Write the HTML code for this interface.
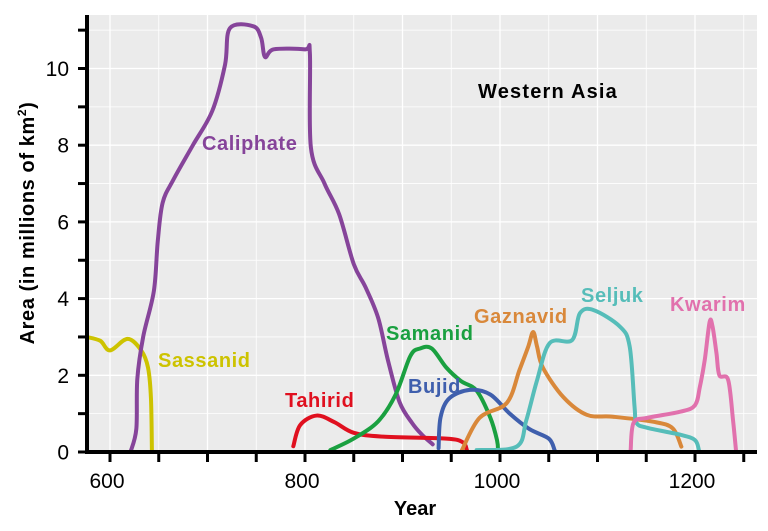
<!DOCTYPE html>
<html><head><meta charset="utf-8"><style>
html,body{margin:0;padding:0;background:#fff;}
svg text{font-family:"Liberation Sans",sans-serif;}
</style></head><body>
<svg id="chart" width="768" height="526" viewBox="0 0 768 526" xmlns="http://www.w3.org/2000/svg">
<rect x="87" y="15" width="670" height="437" fill="#ebebeb"/>
<g id="grid"></g><g id="series"></g><g id="axes"></g><g id="labels"></g>
</svg>
<script>
const xTicks=[600,800,1000,1200];
const yTicks=[0,2,4,6,8,10];
const sassanidYears=[576,590,600,618,632,639,642,643];
const sassanidArea=[3.0,2.9,2.65,2.95,2.65,2.2,1.4,0];
const caliphateYears=[621,627,628,634,645,649,654,665,685,705,718,723,747,755,759,768,800,805,806,820,835,850,862,875,885,897,910,920,931];
const caliphateArea=[0,0.6,1.9,3.0,4.2,5.5,6.5,7.1,8.0,8.9,10.1,11.05,11.1,10.8,10.3,10.5,10.5,10.4,7.95,7.0,6.2,4.9,4.3,3.5,2.4,1.3,0.75,0.45,0.2];
const tahiridYears=[788,795,812,830,850,880,945,962,966];
const tahiridArea=[0.15,0.7,0.95,0.78,0.5,0.4,0.35,0.25,0.05];
const samanidYears=[826,850,875,893,908,918,930,945,960,976,990,997,998];
const samanidArea=[0.05,0.35,0.8,1.5,2.5,2.7,2.7,2.2,1.85,1.6,0.9,0.3,0];
const bujidYears=[937,939,948,969,990,1010,1030,1050,1056];
const bujidArea=[0.1,0.9,1.4,1.62,1.5,1.0,0.6,0.35,0.05];
const gaznavidYears=[961,979,1007,1020,1029,1034,1038,1044,1065,1089,1116,1157,1177,1186];
const gaznavidArea=[0.05,0.89,1.28,2.14,2.75,3.13,2.75,2.2,1.43,0.97,0.92,0.79,0.62,0.14];
const seljukYears=[976,1017,1027,1038,1051,1074,1082,1096,1123,1133,1138,1140,1151,1185,1200,1204];
const seljukArea=[0.05,0.14,0.83,1.87,2.84,2.92,3.62,3.7,3.27,2.75,1.18,0.76,0.63,0.45,0.31,0.05];
const kwarimYears=[1134,1137,1151,1185,1200,1205,1210,1215,1218,1222,1225,1234,1239,1242];
const kwarimArea=[0.05,0.76,0.89,1.05,1.22,1.7,2.4,3.39,3.27,2.58,2.0,1.88,0.83,0.05];

const X0=110,KX=0.975,Y0=452,KY=38.35;
const sx=y=>X0+(y-600)*KX, sy=v=>Y0-v*KY;
const NS='http://www.w3.org/2000/svg';
function mk(tag,parent,attrs){const e=document.createElementNS(NS,tag);for(const k in attrs)e.setAttribute(k,attrs[k]);document.getElementById(parent).appendChild(e);return e;}
for(let v=0;v<=11;v++){const l=mk('line','grid',{x1:87,x2:757,y1:sy(v),y2:sy(v),stroke:'#fff','stroke-width':v%2?0.8:1.3});

}
for(let y=600;y<=1250;y+=50){const l=mk('line','grid',{x1:sx(y),x2:sx(y),y1:15,y2:452,stroke:'#fff','stroke-width':y%100?0.8:1.3});

}
function path(xs,vs){const p=xs.map((x,i)=>[sx(x),sy(vs[i])]);let d='M'+p[0][0]+','+p[0][1];
for(let i=0;i<p.length-1;i++){const a=p[i-1]||p[i],b=p[i],c=p[i+1],e=p[i+2]||c;
d+=` C${b[0]+(c[0]-a[0])/6},${b[1]+(c[1]-a[1])/6} ${c[0]-(e[0]-b[0])/6},${c[1]-(e[1]-b[1])/6} ${c[0]},${c[1]}`;}return d;}
const S=[['sassanid',sassanidYears,sassanidArea,'#cdc300'],['caliphate',caliphateYears,caliphateArea,'#86449a'],['tahirid',tahiridYears,tahiridArea,'#e0101f'],['samanid',samanidYears,samanidArea,'#1aa040'],['bujid',bujidYears,bujidArea,'#3f5fad'],['gaznavid',gaznavidYears,gaznavidArea,'#d9883a'],['seljuk',seljukYears,seljukArea,'#56bdb9'],['kwarim',kwarimYears,kwarimArea,'#e171ad']];
S.forEach(s=>{const e=mk('path','series',{d:path(s[1],s[2]),fill:'none',stroke:s[3],'stroke-width':4,'stroke-linecap':'round','stroke-linejoin':'round'});

});
let a=mk('line','axes',{x1:87,x2:87,y1:15,y2:454,stroke:'#000','stroke-width':4});


a=mk('line','axes',{x1:85,x2:757,y1:452,y2:452,stroke:'#000','stroke-width':4});


for(let v=0;v<=11;v++){const t=mk('line','axes',{x1:78,x2:87,y1:sy(v),y2:sy(v),stroke:'#000','stroke-width':3});

}
for(let y=600;y<=1250;y+=50){const t=mk('line','axes',{x1:sx(y),x2:sx(y),y1:452,y2:462,stroke:'#000','stroke-width':3});

}
yTicks.forEach(v=>{const t=mk('text','axes',{x:69,y:sy(v)+7.5,'text-anchor':'end','font-size':21,fill:'#000'});t.textContent=v;

});
xTicks.forEach(y=>{const t=mk('text','axes',{x:sx(y)-3,y:488,'text-anchor':'middle','font-size':21,fill:'#000'});t.textContent=y;

});
const L=[['caliphate-label','Caliphate',202,150,'#86449a'],['sassanid-label','Sassanid',158,367,'#cdc300'],['tahirid-label','Tahirid',285,407,'#e0101f'],['samanid-label','Samanid',386,340,'#1aa040'],['bujid-label','Bujid',408,393,'#3f5fad'],['gaznavid-label','Gaznavid',474,323,'#d9883a'],['seljuk-label','Seljuk',581,302,'#56bdb9'],['kwarim-label','Kwarim',670,311,'#e171ad'],['panel-title','Western Asia',478,98,'#000']];
L.forEach(l=>{const t=mk('text','labels',{x:l[2],y:l[3],'font-size':20,'font-weight':'bold','letter-spacing':l[0]=='panel-title'?1.2:0.6,fill:l[4]});t.textContent=l[1];

});
let t=mk('text','labels',{x:415,y:515,'text-anchor':'middle','font-size':20,'font-weight':'bold',fill:'#000'});t.textContent='Year';


t=mk('text','labels',{x:0,y:0,'text-anchor':'middle','font-size':20,'font-weight':'bold','letter-spacing':0.6,fill:'#000',transform:'translate(34,223) rotate(-90)'});
t.innerHTML='Area (in millions of km<tspan dy="-8" font-size="12">2</tspan><tspan dy="8">)</tspan>';


</script>
</body></html>
